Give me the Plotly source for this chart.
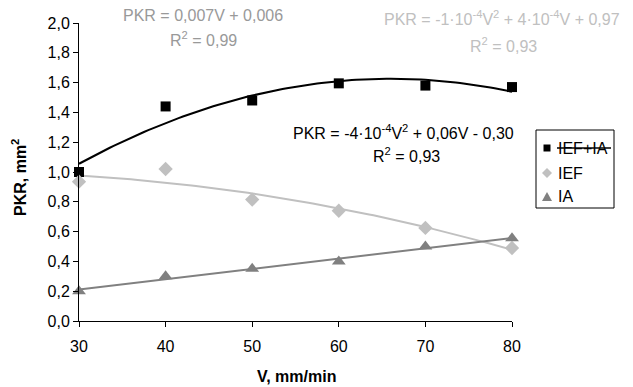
import numpy as np
import plotly.graph_objects as go

V = [30, 40, 50, 60, 70, 80]
ief_ia = [1.00, 1.44, 1.48, 1.595, 1.58, 1.57]
ief = [0.935, 1.02, 0.815, 0.74, 0.625, 0.49]
ia = [0.20, 0.30, 0.35, 0.40, 0.50, 0.555]

series_names = ["IEF+IA", "IEF", "IA"]
eq_texts = [
    ("PKR = -4·10<sup>-4</sup>V<sup>2</sup> + 0,06V - 0,30", "R<sup>2</sup> = 0,93"),
    ("PKR = -1·10<sup>-4</sup>V<sup>2</sup> + 4·10<sup>-4</sup>V + 0,97", "R<sup>2</sup> = 0,93"),
    ("PKR = 0,007V + 0,006", "R<sup>2</sup> = 0,99"),
]

W, H = 633, 387
L, R, T, B = 79, 512, 23, 321
FONT = "Liberation Sans, Arial, sans-serif"

def px(x):
    return (x - L) / (R - L)

def py(y):
    return (B - y) / (B - T)

colors = ["#000000", "#c0c0c0", "#808080"]
symbols = ["square", "diamond", "triangle-up"]
msizes = [10, 11, 12]
degrees = [2, 2, 1]
data = [ief_ia, ief, ia]

fig = go.Figure()
vv = np.linspace(min(V), max(V), 101)
for d, c, deg in zip(data, colors, degrees):
    coef = np.polyfit(V, d, deg)
    fig.add_trace(go.Scatter(x=vv, y=np.polyval(coef, vv), mode="lines",
                             line=dict(color=c, width=2), showlegend=False,
                             hoverinfo="skip"))
for d, c, s, ms, n in zip(data, colors, symbols, msizes, series_names):
    fig.add_trace(go.Scatter(x=V, y=d, mode="markers", name=n,
                             marker=dict(color=c, symbol=s, size=ms, line=dict(width=0)),
                             showlegend=False, cliponaxis=False))

ann = []
# equations
eq_pos = [((403, 132), (406, 155), "#000000"),
          ((502, 18), (503, 45), "#c0c0c0"),
          ((203, 15), (203, 39), "#999999")]
for (t1, t2), ((x1, y1), (x2, y2), col) in zip(eq_texts, eq_pos):
    ann.append(dict(x=px(x1), y=py(y1), xref="paper", yref="paper", text=t1,
                    showarrow=False, xanchor="center", yanchor="middle",
                    font=dict(family=FONT, size=16, color=col)))
    ann.append(dict(x=px(x2), y=py(y2), xref="paper", yref="paper", text=t2,
                    showarrow=False, xanchor="center", yanchor="middle",
                    font=dict(family=FONT, size=16, color=col)))

# axis titles
ann.append(dict(x=px(296), y=py(376), xref="paper", yref="paper",
                text="<b>V, mm/min</b>", showarrow=False, xanchor="center",
                yanchor="middle", font=dict(family=FONT, size=16, color="#000")))
ann.append(dict(x=px(19), y=py(178), xref="paper", yref="paper",
                text="<b>PKR, mm<sup>2</sup></b>", showarrow=False, xanchor="center",
                yanchor="middle", textangle=-90,
                font=dict(family=FONT, size=16, color="#000")))

# legend (custom)
shapes = [dict(type="rect", xref="paper", yref="paper",
               x0=px(536), x1=px(614), y0=py(130), y1=py(208),
               line=dict(color="#000", width=1), fillcolor="white")]
leg_y = [148, 173, 197]
paths = [
    "M-3.5,-3.5 L3.5,-3.5 L3.5,3.5 L-3.5,3.5 Z",
    "M0,-5 L5,0 L0,5 L-5,0 Z",
    "M-5,-4 L5,-4 L0,5 Z",
]
for yy, c, p, n in zip(leg_y, colors, paths, series_names):
    shapes.append(dict(type="path", xref="paper", yref="paper",
                       xsizemode="pixel", ysizemode="pixel",
                       xanchor=px(547), yanchor=py(yy), path=p,
                       fillcolor=c, line=dict(width=0)))
    ann.append(dict(x=px(556), y=py(yy), xref="paper", yref="paper", text=n,
                    showarrow=False, xanchor="left", yanchor="middle",
                    font=dict(family=FONT, size=16, color="#000")))
shapes.append(dict(type="line", xref="paper", yref="paper",
                   x0=px(557), x1=px(611), y0=py(148), y1=py(148),
                   line=dict(color="#000", width=1.5)))

fig.update_layout(
    width=W, height=H,
    margin=dict(l=L, r=W - R, t=T, b=H - B, pad=0),
    paper_bgcolor="white", plot_bgcolor="white",
    separators=", ",
    font=dict(family=FONT, size=15, color="#000"),
    xaxis=dict(range=[30, 80], tickvals=V, showgrid=False, zeroline=False,
               showline=True, linecolor="#000", linewidth=1,
               ticks="outside", ticklen=5, tickcolor="#000",
               ticklabelstandoff=6,
               tickfont=dict(size=16)),
    yaxis=dict(range=[0, 2], dtick=0.2, tickformat=".1f", showgrid=False,
               zeroline=False, showline=True, linecolor="#000", linewidth=1,
               ticks="outside", ticklen=5, tickcolor="#000",
               tickfont=dict(size=16)),
    annotations=ann, shapes=shapes, showlegend=False,
)
fig.write_html("out.html")
